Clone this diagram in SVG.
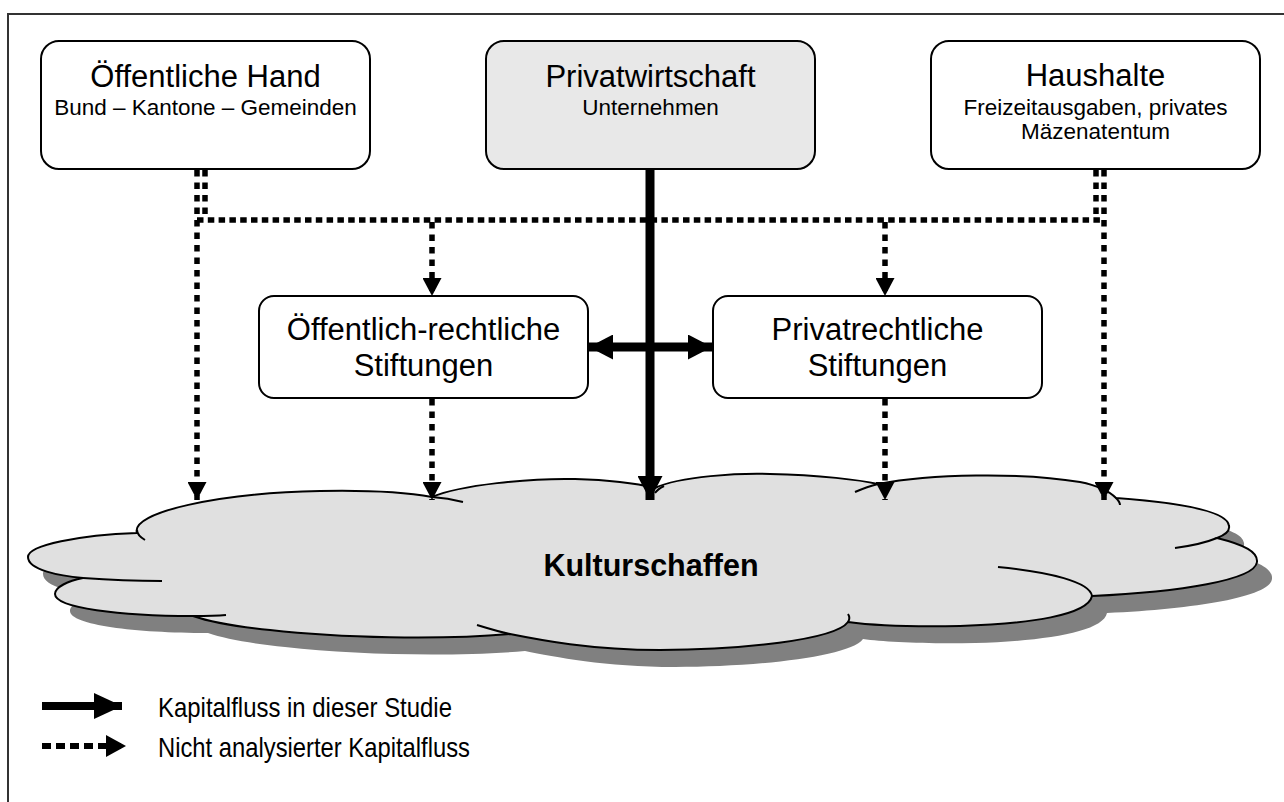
<svg xmlns="http://www.w3.org/2000/svg" width="1284" height="802" viewBox="0 0 1284 802">
<style>
.box{fill:#fff;stroke:#000;stroke-width:2}
.boxg{fill:#e8e8e8;stroke:#000;stroke-width:2}
.t{font-family:"Liberation Sans",Arial,sans-serif;fill:#000;text-anchor:middle}
.title{font-size:31px}
.sub{font-size:22.5px}
.dh{fill:none;stroke:#000;stroke-width:5.5;stroke-dasharray:6.5 4.3}
.dv{fill:none;stroke:#000;stroke-width:5.5;stroke-dasharray:6.5 6}
.solid{fill:none;stroke:#000;stroke-width:9}
.inner{fill:none;stroke:#000;stroke-width:2}
.leg{font-family:"Liberation Sans",Arial,sans-serif;font-size:28px;fill:#000}
</style>
<defs>
<marker id="ad" viewBox="0 0 18 19" markerWidth="18" markerHeight="19" refX="18" refY="9.5" orient="auto" markerUnits="userSpaceOnUse"><path d="M0,0 L18,9.5 L0,19 Z" fill="#000"/></marker>
<marker id="as" viewBox="0 0 24 25" markerWidth="24" markerHeight="25" refX="24" refY="12.5" orient="auto-start-reverse" markerUnits="userSpaceOnUse"><path d="M0,0 L24,12.5 L0,25 Z" fill="#000"/></marker>
<marker id="al" viewBox="0 0 28 26" markerWidth="28" markerHeight="26" refX="28" refY="13" orient="auto" markerUnits="userSpaceOnUse"><path d="M0,0 L28,13 L0,26 Z" fill="#000"/></marker>
<marker id="ald" viewBox="0 0 20 22" markerWidth="20" markerHeight="22" refX="20" refY="11" orient="auto" markerUnits="userSpaceOnUse"><path d="M0,0 L20,11 L0,22 Z" fill="#000"/></marker>
<path id="cloudShape" d="M28,557 C28,545 80,535 137,533 C130,512 220,493 320,491 C370,490 410,493 432,497 C460,485 530,478 575,479 C610,480 635,483 655,488 C680,476 740,473 770,474 C820,475 860,480 878,484 C930,474 1020,472 1080,482 C1100,486 1110,492 1116,498 C1170,502 1228,510 1229,526 C1230,531 1225,535 1217,538 C1245,545 1258,552 1257,562 C1255,580 1180,592 1092,596 C1088,615 1030,624 960,626 C910,627 870,625 848,622 C835,640 740,650 660,650 C590,650 540,640 510,634 C440,640 340,638 270,630 C240,627 210,622 193,616 C120,616 55,608 55,594 C55,587 68,581 83,578 C60,576 28,570 28,557 Z"/>
</defs>

<g id="frame">
<path d="M8,802 V14 H1284" fill="none" stroke="#333" stroke-width="2"/>
</g>

<g id="cloud">
<use href="#cloudShape" transform="translate(15,17)" fill="#808080"/>
<use href="#cloudShape" fill="#e0e0e0" stroke="#000" stroke-width="2"/>
<path class="inner" d="M137,530 C137,534 140,537 145,540"/>
<path class="inner" d="M432,497 C445,498 455,500 463,502"/>
<path class="inner" d="M655,493 C657,490 660,488 664,486"/>
<path class="inner" d="M855,492 C862,489 870,486 878,484"/>
<path class="inner" d="M1116,498 C1118,500 1120,502 1120,505"/>
<path class="inner" d="M1217,538 C1205,543 1190,546 1175,548"/>
<path class="inner" d="M998,567 C1050,572 1090,582 1092,596"/>
<path class="inner" d="M848,622 C850,619 850,617 848,614"/>
<path class="inner" d="M477,625 C490,629 500,632 510,634"/>
<path class="inner" d="M193,616 C205,616 215,616 226,615"/>
<path class="inner" d="M83,578 C110,580 140,581 162,581"/>
<text class="t" x="651" y="576" font-size="30.5" font-weight="bold">Kulturschaffen</text>
</g>

<g id="connectors">
<path class="dv" d="M205,170 V220"/>
<path class="dh" d="M197,220 H1100"/>
<path class="dv" d="M1096,170 V220"/>
<path class="dv" d="M197,170 V500" marker-end="url(#ad)"/>
<path class="dv" d="M1104,170 V500" marker-end="url(#ad)"/>
<path class="dv" d="M432,222 V296" marker-end="url(#ad)"/>
<path class="dv" d="M885,222 V296" marker-end="url(#ad)"/>
<path class="dv" d="M432,399 V500" marker-end="url(#ad)"/>
<path class="dv" d="M885,399 V500" marker-end="url(#ad)"/>
<path class="solid" d="M650,170 V500" marker-end="url(#as)"/>
<path class="solid" d="M589,347 H712" marker-start="url(#as)" marker-end="url(#as)"/>
</g>

<g id="node-oeffentliche-hand">
<rect class="box" x="41" y="41" width="329" height="128" rx="18"/>
<text class="t title" x="205.5" y="87">Öffentliche Hand</text>
<text class="t sub" x="205.5" y="115">Bund – Kantone – Gemeinden</text>
</g>

<g id="node-privatwirtschaft">
<rect class="boxg" x="486" y="41" width="329" height="128" rx="18"/>
<text class="t title" x="650.5" y="87">Privatwirtschaft</text>
<text class="t sub" x="650.5" y="115">Unternehmen</text>
</g>

<g id="node-haushalte">
<rect class="box" x="931" y="41" width="329" height="128" rx="18"/>
<text class="t title" x="1095.5" y="86">Haushalte</text>
<text class="t sub" x="1095.5" y="115">Freizeitausgaben, privates</text>
<text class="t sub" x="1095.5" y="139">Mäzenatentum</text>
</g>

<g id="node-oeffentlich-rechtliche">
<rect class="box" x="259" y="296" width="329" height="102" rx="15"/>
<text class="t title" x="423.5" y="340">Öffentlich-rechtliche</text>
<text class="t title" x="423.5" y="376">Stiftungen</text>
</g>

<g id="node-privatrechtliche">
<rect class="box" x="713" y="296" width="329" height="102" rx="15"/>
<text class="t title" x="877.5" y="340">Privatrechtliche</text>
<text class="t title" x="877.5" y="376">Stiftungen</text>
</g>

<g id="legend">
<path d="M42,706 H122" stroke="#000" stroke-width="8" fill="none" marker-end="url(#al)"/>
<path d="M42,746 H126" stroke="#000" stroke-width="6" stroke-dasharray="9 5" fill="none" marker-end="url(#ald)"/>
<text class="leg" x="158" y="717" textLength="294" lengthAdjust="spacingAndGlyphs">Kapitalfluss in dieser Studie</text>
<text class="leg" x="158" y="757" textLength="312" lengthAdjust="spacingAndGlyphs">Nicht analysierter Kapitalfluss</text>
</g>
</svg>
